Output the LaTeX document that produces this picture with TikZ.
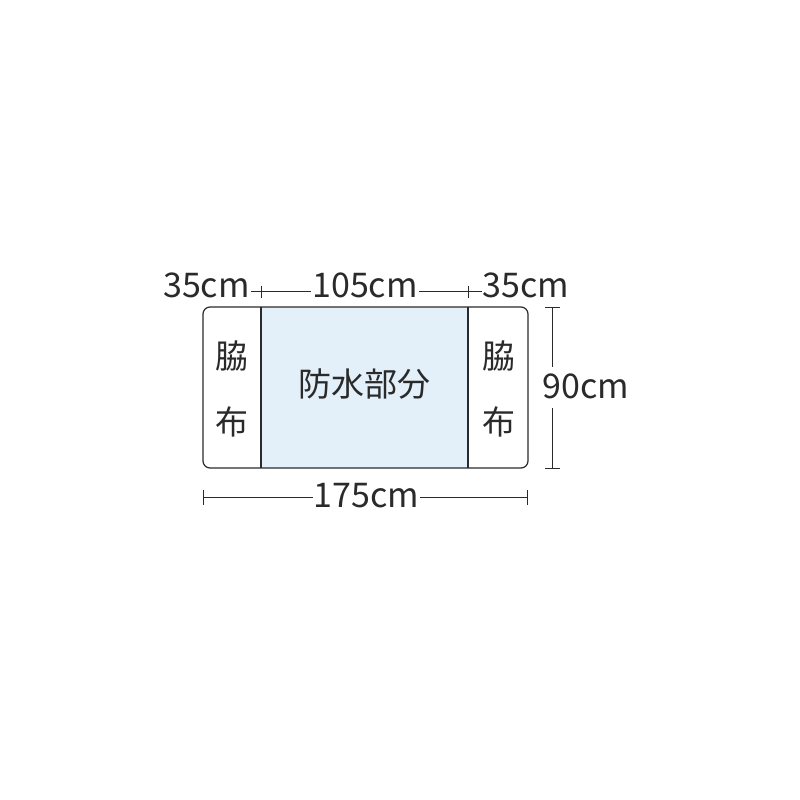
\documentclass[tikz,border=0pt]{standalone}
\usepackage{fontspec}
\setmainfont{Noto Sans CJK JP}
\definecolor{ink}{HTML}{2A2A2A}
\definecolor{wpblue}{HTML}{E3F0FA}
\begin{document}
\begin{tikzpicture}[x=1pt,y=-1pt,
  outline/.style={draw=ink,line width=1.2pt},
  dimline/.style={draw=ink,line width=1.0pt},
  dimlabel/.style={font=\fontsize{34}{40}\selectfont,text=ink,inner sep=1pt,anchor=base},
  cjklabel/.style={font=\fontsize{33}{38}\selectfont,text=ink,inner sep=0pt}]
\useasboundingbox (0,0) rectangle (800,800);
% sheet
\fill[wpblue] (261,307) rectangle (468,468);
\draw[outline,rounded corners=7pt] (203,307) rectangle (528,468);
\draw[outline] (261,307) -- (261,468);
\draw[outline] (468,307) -- (468,468);
% texts in sheet
\node[cjklabel] (wl1) at (231.5,356) {脇};
\node[cjklabel] (wl2) at (231.5,421.5) {布};
\node[cjklabel] (wr1) at (498.5,356) {脇};
\node[cjklabel] (wr2) at (498.5,421.5) {布};
\node[cjklabel] (wp) at (364.5,384) {防水部分};
% top dimension
\node[dimlabel] (t35a) at (206.5,297) {35cm};
\node[dimlabel] (t105) at (365,297) {105cm};
\node[dimlabel] (t35b) at (526,297) {35cm};
\coordinate (ty) at (0,291.5);
\draw[dimline] (t35a.east |- ty) -- (t105.west |- ty);
\draw[dimline] (t105.east |- ty) -- (t35b.west |- ty);
\draw[dimline] (261,285.5) -- (261,297.5);
\draw[dimline] (468,285.5) -- (468,297.5);
% right dimension
\node[dimlabel] (r90) at (586,398) {90cm};
\coordinate (rt) at (552.5,307);
\coordinate (rb) at (552.5,468);
\coordinate (rm1) at (552.5,367);
\coordinate (rm2) at (552.5,408);
\draw[dimline] (rt) -- (rm1);
\draw[dimline] (rm2) -- (rb);
\draw[dimline] ([xshift=-7.5pt]rt) -- ([xshift=7.5pt]rt);
\draw[dimline] ([xshift=-7.5pt]rb) -- ([xshift=7.5pt]rb);
% bottom dimension
\node[dimlabel] (b175) at (366.5,507) {175cm};
\coordinate (bl) at (203.3,497.3);
\coordinate (br) at (527.5,497.3);
\draw[dimline] (bl) -- (b175.west |- bl);
\draw[dimline] (b175.east |- br) -- (br);
\draw[dimline] ([yshift=-7.5pt]bl) -- ([yshift=7.5pt]bl);
\draw[dimline] ([yshift=-7.5pt]br) -- ([yshift=7.5pt]br);
\end{tikzpicture}
\end{document}
